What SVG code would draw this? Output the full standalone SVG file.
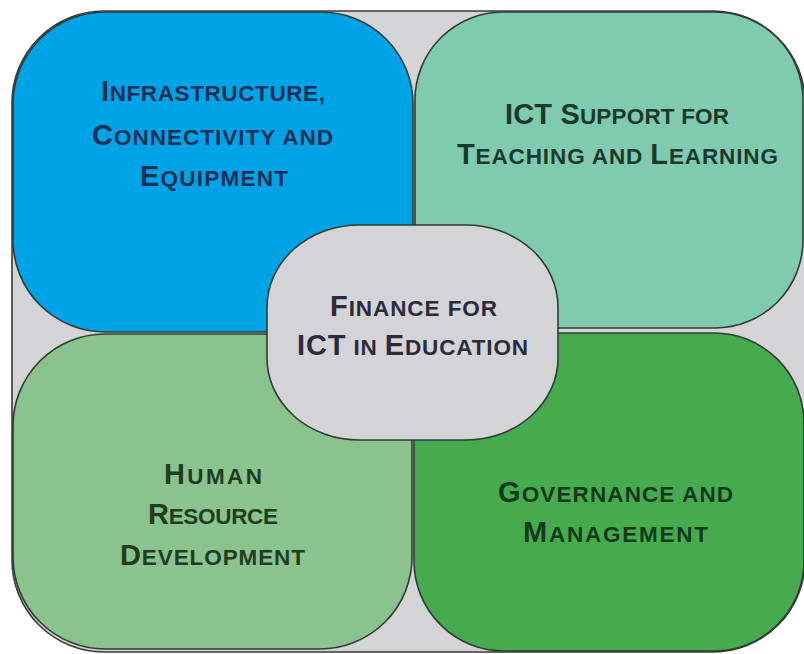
<svg xmlns="http://www.w3.org/2000/svg" width="804" height="654" viewBox="0 0 804 654">
  <style>
    .box { stroke: #2e3d34; stroke-width: 1.6; }
    .t { font-family: "Liberation Sans", Arial, sans-serif; font-weight: bold; font-size: 22.5px; text-anchor: middle; }
    .b { font-size: 29px; }
    .navy { fill: #1a2f55; }
    .dg { fill: #1a3a2c; }
    .gr { fill: #2a2b3c; }
    .lg { fill: #1e3d23; }
    .bg { fill: #15391d; }
  </style>
  <rect width="804" height="654" fill="#ffffff"/>
  <g id="frame">
    <rect x="12" y="11" width="793" height="641" rx="92" ry="92" fill="#d4d4d6" stroke="#3a3a3a" stroke-width="1.6"/>
  </g>
  <g id="node-infrastructure">
    <rect class="box" x="13" y="12" width="400" height="320" rx="92" ry="92" fill="#00a3e6"/>
    <text class="t navy" x="213" y="101" textLength="224" lengthAdjust="spacing"><tspan class="b">I</tspan>NFRASTRUCTURE,</text>
    <text class="t navy" x="212.5" y="145" textLength="241" lengthAdjust="spacing"><tspan class="b">C</tspan>ONNECTIVITY AND</text>
    <text class="t navy" x="214" y="186" textLength="148" lengthAdjust="spacing"><tspan class="b">E</tspan>QUIPMENT</text>
  </g>
  <g id="node-ict-support">
    <rect class="box" x="415" y="12" width="388" height="316" rx="88" ry="88" fill="#80cab0"/>
    <text class="t dg" x="617" y="124" textLength="224" lengthAdjust="spacing"><tspan class="b">ICT S</tspan>UPPORT FOR</text>
    <text class="t dg" x="617.5" y="164" textLength="321" lengthAdjust="spacing"><tspan class="b">T</tspan>EACHING AND <tspan class="b">L</tspan>EARNING</text>
  </g>
  <g id="node-human-resource">
    <rect class="box" x="13" y="334" width="399" height="315" rx="92" ry="92" fill="#8bc38e"/>
    <text class="t lg" x="213" y="484" textLength="98" lengthAdjust="spacing"><tspan class="b">H</tspan>UMAN</text>
    <text class="t lg" x="213" y="524" textLength="130" lengthAdjust="spacing"><tspan class="b">R</tspan>ESOURCE</text>
    <text class="t lg" x="212.5" y="565" textLength="185" lengthAdjust="spacing"><tspan class="b">D</tspan>EVELOPMENT</text>
  </g>
  <g id="node-governance">
    <rect class="box" x="414" y="333" width="390" height="318" rx="90" ry="90" fill="#46ab4f"/>
    <text class="t bg" x="615.5" y="502" textLength="235" lengthAdjust="spacing"><tspan class="b">G</tspan>OVERNANCE AND</text>
    <text class="t bg" x="615.5" y="542" textLength="185" lengthAdjust="spacing"><tspan class="b">M</tspan>ANAGEMENT</text>
  </g>
  <g id="node-finance">
    <rect class="box" x="267" y="225" width="291" height="215" rx="92" ry="82" fill="#d4d4d6"/>
    <text class="t gr" x="413.5" y="316" textLength="167" lengthAdjust="spacing"><tspan class="b">F</tspan>INANCE FOR</text>
    <text class="t gr" x="412.5" y="355" textLength="231" lengthAdjust="spacing"><tspan class="b">ICT</tspan> IN <tspan class="b">E</tspan>DUCATION</text>
  </g>
  <g id="connectors"/>
</svg>
